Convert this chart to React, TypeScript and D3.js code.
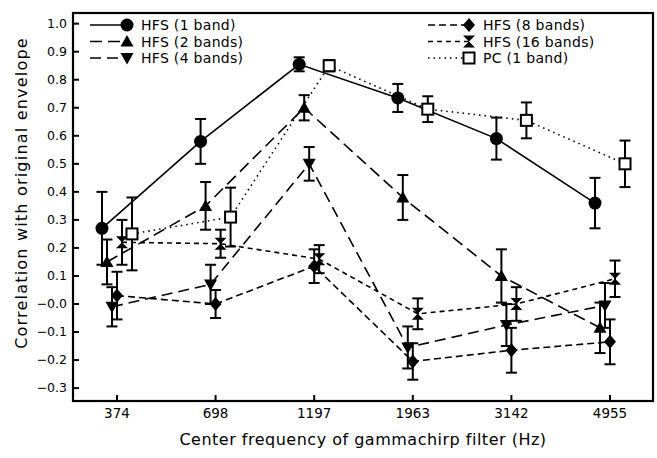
import * as d3 from "d3";

// tick labels (center frequencies)
const freqLabels = ["374", "698", "1197", "1963", "3142", "4955"];

// mean correlation per series
const hfs1 = [0.27, 0.58, 0.855, 0.735, 0.59, 0.36];
const hfs2 = [0.15, 0.35, 0.7, 0.38, 0.1, -0.085];
const hfs4 = [-0.01, 0.07, 0.5, -0.155, -0.075, -0.005];
const hfs8 = [0.03, 0.0, 0.135, -0.205, -0.165, -0.135];
const hfs16 = [0.22, 0.215, 0.16, -0.035, 0.0, 0.09];
const pc1 = [0.25, 0.31, 0.85, 0.695, 0.655, 0.5];

// error bar half-lengths
const err1 = [0.13, 0.08, 0.025, 0.05, 0.075, 0.09];
const err2 = [0.08, 0.085, 0.045, 0.08, 0.095, 0.09];
const err4 = [0.07, 0.07, 0.06, 0.075, 0.075, 0.08];
const err8 = [0.085, 0.05, 0.06, 0.065, 0.08, 0.08];
const err16 = [0.08, 0.05, 0.05, 0.055, 0.06, 0.065];
const errPc = [0.13, 0.105, 0.02, 0.046, 0.064, 0.083];

const seriesNames = [
  "HFS (1 band)",
  "HFS (2 bands)",
  "HFS (4 bands)",
  "HFS (8 bands)",
  "HFS (16 bands)",
  "PC (1 band)",
];

const yTicks = [1.0, 0.9, 0.8, 0.7, 0.6, 0.5, 0.4, 0.3, 0.2, 0.1, 0.0, -0.1, -0.2, -0.3];

// styles: marker, dash, horizontal jitter (px)
const styles = [
  { marker: "circle", dash: "none", dx: -15 },
  { marker: "triUp", dash: "12,6", dx: -10 },
  { marker: "triDown", dash: "11,6", dx: -5 },
  { marker: "diamond", dash: "7,4", dx: 0 },
  { marker: "hourglass", dash: "5,4", dx: 5 },
  { marker: "square", dash: "1.5,4", dx: 15 },
];

const FONT = "'DejaVu Sans', sans-serif";

const markerPath = (m: string) => {
  switch (m) {
    case "triUp":
      return "M0,-6.5L6.5,5L-6.5,5Z";
    case "triDown":
      return "M-6.5,-5L6.5,-5L0,6.5Z";
    case "diamond":
      return "M0,-7L6,0L0,7L-6,0Z";
    case "hourglass":
      return "M-6,-6L6,-6L-6,6L6,6Z";
    default:
      return "";
  }
};

const Marker = ({ m, x, y }: { m: string; x: number; y: number }) => {
  if (m === "circle") return <circle cx={x} cy={y} r={6.5} fill="#000" />;
  if (m === "square")
    return <rect x={x - 5.5} y={y - 5.5} width={11} height={11} fill="#fff" stroke="#000" strokeWidth={2} />;
  return <path d={markerPath(m)} transform={`translate(${x},${y})`} fill="#000" />;
};

export default function App() {
  const W = 657;
  const H = 458;
  const left = 73, right = 653, top = 13, bottom = 401;

  const x = d3.scaleLinear().domain([-0.446, 5.436]).range([left, right]);
  const y = d3.scaleLinear().domain([-0.346, 1.038]).range([bottom, top]);

  const values = [hfs1, hfs2, hfs4, hfs8, hfs16, pc1];
  const errors = [err1, err2, err4, err8, err16, errPc];

  const line = d3
    .line<[number, number]>()
    .x((d) => d[0])
    .y((d) => d[1]);

  const fmt = (v: number) => (Math.abs(v) < 1e-9 ? "\u22120.0" : v < 0 ? "\u2212" + d3.format(".1f")(-v) : d3.format(".1f")(v));

  const legendRows = [25, 41.5, 58];

  return (
    <svg width={W} height={H} style={{ position: "absolute", left: 0, top: 0, background: "#fff" }} fontFamily={FONT}>
      <rect x={0} y={0} width={W} height={H} fill="#fff" />

      {/* y ticks and labels */}
      {yTicks.map((t) => (
        <g key={t}>
          <line x1={left} x2={left + 6} y1={y(t)} y2={y(t)} stroke="#000" strokeWidth={2} />
          <text x={left - 6} y={y(t)} dy="0.35em" textAnchor="end" fontSize={12.5}>
            {fmt(t)}
          </text>
        </g>
      ))}

      {/* x ticks and labels */}
      {freqLabels.map((f, i) => (
        <g key={f}>
          <line x1={x(i)} x2={x(i)} y1={bottom} y2={bottom - 6} stroke="#000" strokeWidth={2} />
          <text x={x(i)} y={bottom + 17} textAnchor="middle" fontSize={13.5}>
            {f}
          </text>
        </g>
      ))}

      {/* series lines */}
      {values.map((vals, s) => (
        <path
          key={"l" + s}
          d={line(vals.map((v, i) => [x(i) + styles[s].dx, y(v)]))!}
          fill="none"
          stroke="#000"
          strokeWidth={1.6}
          strokeDasharray={styles[s].dash}
        />
      ))}

      {/* error bars */}
      {values.map((vals, s) =>
        vals.map((v, i) => {
          const cx = x(i) + styles[s].dx;
          const e = errors[s][i];
          return (
            <g key={`e${s}-${i}`} stroke="#000" strokeWidth={2}>
              <line x1={cx} x2={cx} y1={y(v + e)} y2={y(v - e)} />
              <line x1={cx - 5.5} x2={cx + 5.5} y1={y(v + e)} y2={y(v + e)} />
              <line x1={cx - 5.5} x2={cx + 5.5} y1={y(v - e)} y2={y(v - e)} />
            </g>
          );
        })
      )}

      {/* markers */}
      {values.map((vals, s) =>
        vals.map((v, i) => <Marker key={`m${s}-${i}`} m={styles[s].marker} x={x(i) + styles[s].dx} y={y(v)} />)
      )}

      {/* legend */}
      {seriesNames.map((name, s) => {
        const col = s < 3 ? 0 : 1;
        const ly = legendRows[s % 3];
        const x0 = col === 0 ? 90 : 428;
        const mx = col === 0 ? 127 : 469;
        return (
          <g key={"lg" + s}>
            <line x1={x0} x2={mx} y1={ly} y2={ly} stroke="#000" strokeWidth={1.6} strokeDasharray={styles[s].dash} />
            <Marker m={styles[s].marker} x={mx} y={ly} />
            <text x={mx + 14} y={ly} dy="0.36em" fontSize={14} letterSpacing={0.3}>
              {name}
            </text>
          </g>
        );
      })}

      {/* frame */}
      <rect x={left} y={top} width={right - left} height={bottom - top} fill="none" stroke="#000" strokeWidth={2.2} />

      {/* axis titles */}
      <text x={(left + right) / 2} y={445} textAnchor="middle" fontSize={16} letterSpacing={0.5}>
        Center frequency of gammachirp filter (Hz)
      </text>
      <text
        transform={`translate(27,${(top + bottom) / 2 - 14}) rotate(-90)`}
        textAnchor="middle"
        fontSize={16}
        letterSpacing={1.2}
      >
        Correlation with original envelope
      </text>
    </svg>
  );
}
